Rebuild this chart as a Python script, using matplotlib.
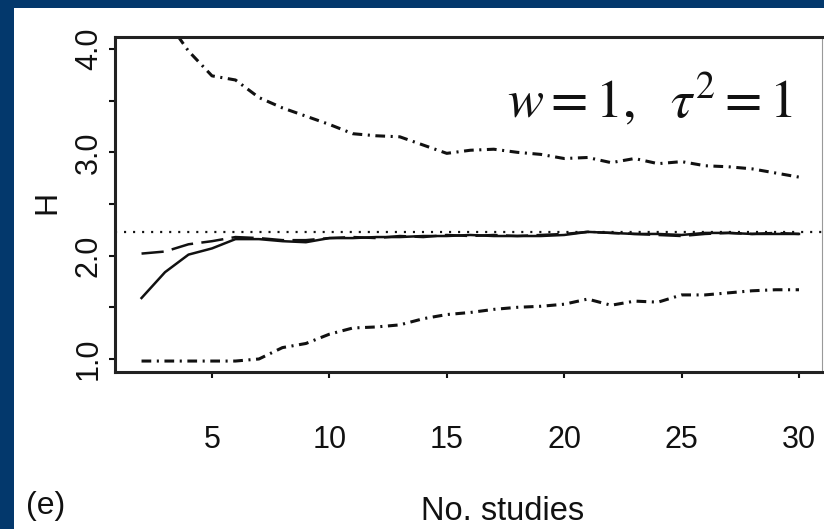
import matplotlib
matplotlib.use("Agg")
from matplotlib import pyplot as plt
from matplotlib.patches import Rectangle

plt.rcParams['font.family'] = ['Liberation Sans', 'DejaVu Sans']
plt.rcParams['mathtext.fontset'] = 'stix'
plt.rcParams['lines.scale_dashes'] = False

# 数据：研究数目与 H 的估计
n_studies = list(range(2, 31))
h_upper = [4.6, 4.3, 3.98, 3.74, 3.70, 3.53, 3.43, 3.35, 3.27, 3.18, 3.16, 3.15, 3.07, 2.99,
           3.02, 3.03, 3.00, 2.98, 2.94, 2.95, 2.90, 2.94, 2.89, 2.91, 2.87, 2.86, 2.84, 2.80, 2.76]
h_lower = [0.98, 0.98, 0.98, 0.98, 0.98, 1.00, 1.11, 1.15, 1.24, 1.30, 1.31, 1.33, 1.39, 1.43,
           1.45, 1.48, 1.50, 1.51, 1.53, 1.58, 1.52, 1.56, 1.55, 1.62, 1.62, 1.64, 1.66, 1.67, 1.67]
h_solid = [1.59, 1.84, 2.01, 2.07, 2.16, 2.16, 2.14, 2.13, 2.17, 2.17, 2.18, 2.18, 2.19, 2.19,
           2.20, 2.19, 2.19, 2.19, 2.20, 2.23, 2.22, 2.21, 2.21, 2.20, 2.22, 2.22, 2.21, 2.21, 2.21]
h_dashed = [2.02, 2.04, 2.11, 2.14, 2.18, 2.17, 2.15, 2.15, 2.17, 2.18, 2.17, 2.19, 2.18, 2.20,
            2.19, 2.20, 2.19, 2.20, 2.21, 2.23, 2.22, 2.21, 2.20, 2.19, 2.21, 2.22, 2.21, 2.22, 2.21]
h_true = 2.225
x_ticks = [5, 10, 15, 20, 25, 30]
y_ticks = [1.0, 2.0, 3.0, 4.0]
y_tick_labels = ["1.0", "2.0", "3.0", "4.0"]

W, H = 824, 529
fig = plt.figure(figsize=(W / 100, H / 100), dpi=100)
fig.patch.set_facecolor('#03386c')
# 白色底板
fig.patches.append(Rectangle((14 / W, 0), 1, 1 - 8 / H, transform=fig.transFigure,
                             facecolor='white', edgecolor='none', zorder=-10))

ax = fig.add_axes([115 / W, 1 - 372 / H, (822 - 115) / W, (372 - 37) / H])
ax.set_facecolor('white')

ink = '#111111'
ax.plot(n_studies, h_upper, color=ink, lw=2.2, dashes=(7, 4, 1.5, 4))
ax.plot(n_studies, h_lower, color=ink, lw=2.2, dashes=(7, 4, 1.5, 4))
ax.plot(n_studies, h_solid, color=ink, lw=1.8)
ax.plot(n_studies, h_dashed, color=ink, lw=1.8, dashes=(16, 6))
ax.axhline(h_true, color=ink, lw=1.6, dashes=(1.5, 5))

ax.set_xlim(0.87, 30.98)
ax.set_ylim(0.874, 4.116)

ax.set_xticks(x_ticks)
ax.set_yticks(y_ticks)
ax.set_yticklabels(y_tick_labels, rotation=90, va='center')
ax.set_yticks([1.5, 2.5, 3.5], minor=True)
ax.tick_params(axis='both', which='both', direction='out', length=4, width=1.5, colors=ink,
               labelsize=22)
ax.tick_params(axis='x', pad=34)
ax.tick_params(axis='y', pad=4)

for side in ['left', 'top', 'bottom']:
    ax.spines[side].set_linewidth(2.2)
    ax.spines[side].set_color('#222222')
ax.spines['right'].set_linewidth(0.8)
ax.spines['right'].set_color('#999999')

fig.text(47 / W, 1 - 202 / H, "H", rotation=90, ha='center', va='center', fontsize=23, color=ink)
fig.text(503 / W, 1 - 512 / H, "No. studies", ha='center', va='center', fontsize=23.5, color=ink)
fig.text(26 / W, 1 - 506 / H, "(e)", ha='left', va='center', fontsize=23, color=ink)
fig.text(793 / W, 1 - 118 / H, r"$w = 1,\ \ \tau^2 = 1$", ha='right', va='baseline',
         fontsize=39, color=ink)

fig.savefig("out.png", dpi=100, facecolor=fig.get_facecolor())
